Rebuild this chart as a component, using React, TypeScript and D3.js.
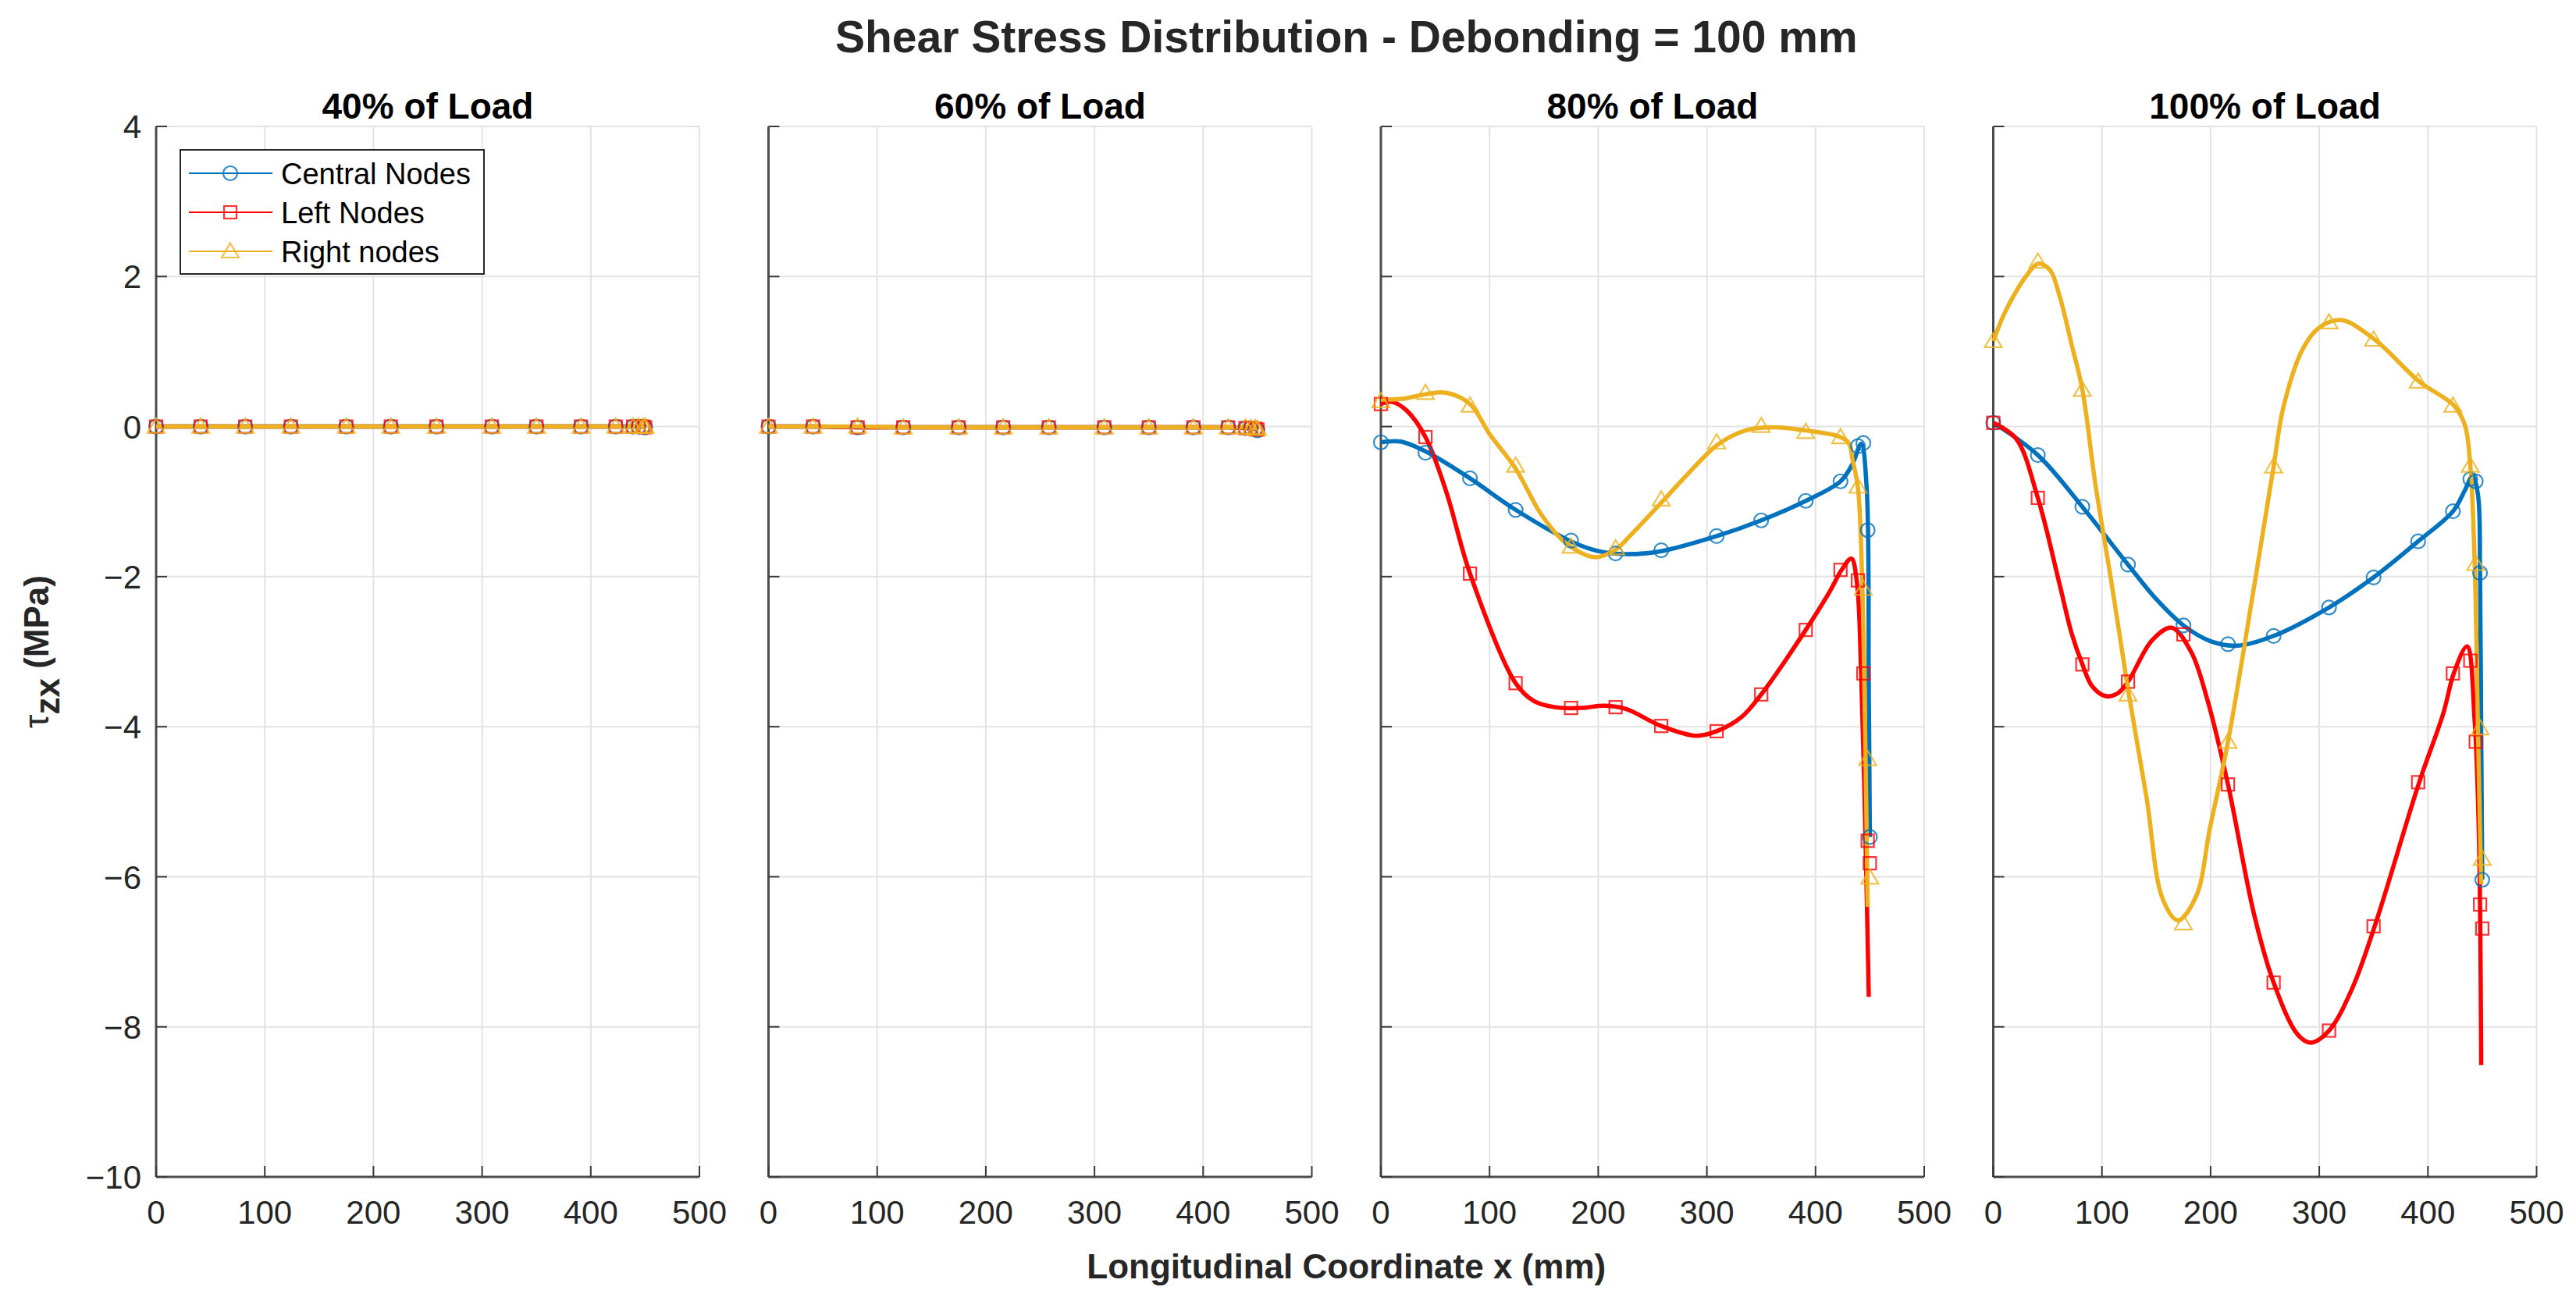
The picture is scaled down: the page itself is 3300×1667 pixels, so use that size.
import * as d3 from "d3";
import React, { useEffect, useRef } from "react";

type Pt = [number, number];

// node coordinates along the bond (mm), shared by all series
const NODE_X = [0, 41, 82, 124, 175, 216, 258, 309, 350, 391, 423, 439, 444, 448, 450];

const X_TICKS = [0, 100, 200, 300, 400, 500];
const Y_TICKS = [4, 2, 0, -2, -4, -6, -8, -10];
const PANEL_TITLES = ["40% of Load", "60% of Load", "80% of Load", "100% of Load"];
const SERIES_NAMES = ["Central Nodes", "Left Nodes", "Right nodes"];

// marker values (MPa) at NODE_X
const central40 = [0, 0, 0, 0, 0, 0, 0, 0, 0, 0, 0, 0, 0, 0, -0.01];
const left40 = [0, 0, 0, 0, 0, 0, 0, 0, 0, 0, 0, 0, 0, 0, -0.01];
const right40 = [0, 0, 0, 0, 0, 0, 0, 0, 0, 0, 0, 0, 0, 0, 0];

const central60 = [0, 0, -0.01, -0.01, -0.01, -0.01, -0.01, -0.01, -0.01, -0.01, -0.01, -0.02, -0.02, -0.03, -0.05];
const left60 = [0, 0, -0.01, -0.01, -0.01, -0.01, -0.01, -0.01, -0.01, -0.01, -0.01, -0.02, -0.02, -0.03, -0.04];
const right60 = [0, 0, 0, -0.01, -0.01, -0.01, -0.01, -0.01, -0.01, -0.01, -0.01, -0.01, -0.02, -0.02, -0.03];

const central80 = [-0.21, -0.35, -0.69, -1.11, -1.52, -1.69, -1.65, -1.46, -1.25, -0.99, -0.73, -0.26, -0.22, -1.38, -5.47];
const left80 = [0.3, -0.14, -1.96, -3.42, -3.75, -3.74, -3.99, -4.06, -3.57, -2.71, -1.91, -2.05, -3.29, -5.52, -5.82];
const right80 = [0.34, 0.45, 0.28, -0.52, -1.6, -1.62, -0.97, -0.21, 0.01, -0.07, -0.14, -0.8, -2.16, -4.43, -6.01];

const central100 = [0.05, -0.38, -1.07, -1.84, -2.65, -2.9, -2.79, -2.41, -2.01, -1.53, -1.13, -0.7, -0.73, -1.95, -6.04];
const left100 = [0.05, -0.95, -3.17, -3.4, -2.77, -4.77, -7.41, -8.05, -6.66, -4.74, -3.29, -3.12, -4.2, -6.37, -6.69];
const right100 = [1.14, 2.2, 0.49, -3.57, -6.62, -4.2, -0.53, 1.39, 1.16, 0.6, 0.28, -0.52, -1.83, -4.02, -5.76];

// smoothed curves as drawn (x mm, MPa)
const central80Curve: Pt[] = [
  [0, -0.21], [18, -0.2], [41, -0.33], [82, -0.69], [124, -1.11], [175, -1.53], [200, -1.66],
  [225, -1.7], [258, -1.66], [309, -1.46], [350, -1.25], [391, -0.99], [423, -0.73], [434, -0.5],
  [442, -0.23], [447, -0.8], [449, -3.5], [450, -5.47],
];
const left80Curve: Pt[] = [
  [0, 0.3], [10, 0.33], [24, 0.21], [41, -0.14], [60, -0.86], [82, -1.96], [124, -3.42],
  [141, -3.66], [160, -3.74], [185, -3.75], [205, -3.72], [225, -3.76], [258, -3.99], [290, -4.12],
  [309, -4.06], [332, -3.87], [350, -3.57], [391, -2.71], [413, -2.2], [424, -1.91], [433, -1.76],
  [438, -2.07], [442, -3.3], [446, -5.5], [449, -7.6],
];
const right80Curve: Pt[] = [
  [0, 0.36], [20, 0.37], [41, 0.43], [60, 0.45], [82, 0.3], [100, -0.1], [124, -0.56], [148, -1.18],
  [170, -1.55], [197, -1.74], [216, -1.64], [229, -1.46], [259, -1.0], [280, -0.67], [310, -0.24],
  [336, -0.05], [362, -0.01], [390, -0.05], [423, -0.14], [431, -0.23], [434, -0.44], [439, -0.81],
  [443, -2.1], [446, -4.4], [448, -6.4],
];
const central100Curve: Pt[] = [
  [0, 0.05], [41, -0.38], [82, -1.07], [124, -1.84], [150, -2.3], [175, -2.65], [200, -2.86],
  [225, -2.92], [258, -2.79], [309, -2.41], [350, -2.01], [391, -1.53], [423, -1.13], [434, -0.85],
  [441, -0.66], [446, -0.9], [448, -2.0], [449, -4.0], [450, -6.04],
];
const left100Curve: Pt[] = [
  [0, 0.05], [21, -0.16], [41, -0.95], [61, -2.1], [72, -2.75], [82, -3.17], [91, -3.46], [103, -3.59],
  [114, -3.56], [124, -3.4], [146, -2.85], [164, -2.68], [182, -3.0], [197, -3.64], [216, -4.77],
  [240, -6.5], [258, -7.41], [280, -8.1], [292, -8.21], [309, -8.05], [330, -7.5], [351, -6.66],
  [392, -4.74], [414, -3.83], [424, -3.28], [436, -2.93], [443, -3.92], [447, -5.5], [449, -8.51],
];
const right100Curve: Pt[] = [
  [0, 1.14], [10, 1.5], [21, 1.8], [30, 2.0], [41, 2.17], [52, 2.09], [61, 1.74], [72, 1.1], [82, 0.49],
  [94, -0.77], [109, -2.1], [124, -3.5], [141, -4.94], [156, -6.3], [170, -6.58], [187, -6.25],
  [199, -5.38], [216, -4.2], [237, -2.4], [258, -0.53], [267, 0.26], [285, 1.04], [300, 1.32],
  [320, 1.42], [351, 1.16], [392, 0.6], [424, 0.28], [434, 0.02], [439, -0.52], [443, -1.8],
  [446, -4.0], [449, -6.1],
];

const panels = [
  { title: PANEL_TITLES[0], markers: [central40, left40, right40], curves: [null, null, null] },
  { title: PANEL_TITLES[1], markers: [central60, left60, right60], curves: [null, null, null] },
  { title: PANEL_TITLES[2], markers: [central80, left80, right80], curves: [central80Curve, left80Curve, right80Curve] },
  { title: PANEL_TITLES[3], markers: [central100, left100, right100], curves: [central100Curve, left100Curve, right100Curve] },
];

const COLORS = ["#0072BD", "#FF0000", "#EDB120"];
const SHAPES = ["circle", "square", "triangle"];

const W = 3300;
const H = 1667;
const margin = { top: 162, bottom: 1508, left: 200 };
const PANEL_W = 696;
const PANEL_GAP = 88.5;
const FONT = "'Liberation Sans', Arial, Helvetica, sans-serif";

const drawMarker = (g: any, shape: string, cx: number, cy: number, color: string) => {
  let m;
  if (shape === "circle") {
    m = g.append("circle").attr("cx", cx).attr("cy", cy).attr("r", 9);
  } else if (shape === "square") {
    m = g.append("rect").attr("x", cx - 8).attr("y", cy - 8).attr("width", 16).attr("height", 16);
  } else {
    m = g.append("path").attr("d", `M${cx},${cy - 10.5}L${cx + 11},${cy + 8}L${cx - 11},${cy + 8}Z`);
  }
  m.attr("fill", "none")
    .attr("stroke", color)
    .attr("stroke-width", 2.2)
    .attr("stroke-opacity", 0.8);
};

export default function App() {
  const ref = useRef<SVGSVGElement | null>(null);

  useEffect(() => {
    const svg = d3.select(ref.current);
    svg.selectAll("*").remove();
    svg.attr("width", W).attr("height", H).attr("viewBox", `0 0 ${W} ${H}`);
    svg.append("rect").attr("width", W).attr("height", H).attr("fill", "#fff");

    const plotsLeft = margin.left;
    const plotsRight = margin.left + 3 * (PANEL_W + PANEL_GAP) + PANEL_W;
    const midX = (plotsLeft + plotsRight) / 2;

    svg.append("text")
      .attr("x", midX).attr("y", 67)
      .attr("text-anchor", "middle")
      .attr("font-family", FONT).attr("font-weight", "bold").attr("font-size", 57)
      .attr("fill", "#262626")
      .text("Shear Stress Distribution - Debonding = 100 mm");

    svg.append("text")
      .attr("x", midX).attr("y", 1638)
      .attr("text-anchor", "middle")
      .attr("font-family", FONT).attr("font-weight", "bold").attr("font-size", 44)
      .attr("fill", "#262626")
      .text("Longitudinal Coordinate x (mm)");

    const yl = svg.append("text")
      .attr("transform", `translate(62,${(margin.top + margin.bottom) / 2}) rotate(-90)`)
      .attr("text-anchor", "middle")
      .attr("font-family", FONT).attr("font-size", 44)
      .attr("fill", "#262626");
    yl.append("tspan").attr("font-weight", "normal").text("τ");
    yl.append("tspan").attr("font-weight", "bold").attr("dy", 14).text("zx");
    yl.append("tspan").attr("font-weight", "bold").attr("dy", -14).text(" (MPa)");

    panels.forEach((p, i) => {
      const left = margin.left + i * (PANEL_W + PANEL_GAP);
      const x = d3.scaleLinear().domain([0, 500]).range([left, left + PANEL_W]);
      const y = d3.scaleLinear().domain([-10, 4]).range([margin.bottom, margin.top]);
      const g = svg.append("g");

      // grid
      g.append("g").selectAll("line").data(X_TICKS.slice(1)).join("line")
        .attr("x1", (d) => x(d)).attr("x2", (d) => x(d))
        .attr("y1", margin.top).attr("y2", margin.bottom)
        .attr("stroke", "#e3e3e3").attr("stroke-width", 2);
      g.append("g").selectAll("line").data(Y_TICKS.slice(0, -1)).join("line")
        .attr("x1", x(0)).attr("x2", x(500))
        .attr("y1", (d) => y(d)).attr("y2", (d) => y(d))
        .attr("stroke", "#e3e3e3").attr("stroke-width", 2);

      // axes (no box)
      g.append("line").attr("x1", x(0)).attr("x2", x(0)).attr("y1", margin.top).attr("y2", margin.bottom)
        .attr("stroke", "#4d4d4d").attr("stroke-width", 3);
      g.append("line").attr("x1", x(0)).attr("x2", x(500)).attr("y1", margin.bottom).attr("y2", margin.bottom)
        .attr("stroke", "#4d4d4d").attr("stroke-width", 3);

      // inward ticks
      g.append("g").selectAll("line").data(X_TICKS).join("line")
        .attr("x1", (d) => x(d)).attr("x2", (d) => x(d))
        .attr("y1", margin.bottom).attr("y2", margin.bottom - 14)
        .attr("stroke", "#3a3a3a").attr("stroke-width", 2);
      g.append("g").selectAll("line").data(Y_TICKS).join("line")
        .attr("x1", x(0)).attr("x2", x(0) + 14)
        .attr("y1", (d) => y(d)).attr("y2", (d) => y(d))
        .attr("stroke", "#3a3a3a").attr("stroke-width", 2);

      g.append("g").selectAll("text").data(X_TICKS).join("text")
        .attr("x", (d) => x(d)).attr("y", 1568)
        .attr("text-anchor", "middle")
        .attr("font-family", FONT).attr("font-size", 42).attr("fill", "#262626")
        .text((d) => String(d));

      if (i === 0) {
        g.append("g").selectAll("text").data(Y_TICKS).join("text")
          .attr("x", x(0) - 19).attr("y", (d) => y(d))
          .attr("dy", "0.36em")
          .attr("text-anchor", "end")
          .attr("font-family", FONT).attr("font-size", 42).attr("fill", "#262626")
          .text((d) => (d < 0 ? "\u2212" + Math.abs(d) : String(d)));
      }

      g.append("text")
        .attr("x", (x(0) + x(500)) / 2).attr("y", 152)
        .attr("text-anchor", "middle")
        .attr("font-family", FONT).attr("font-weight", "bold").attr("font-size", 46)
        .attr("fill", "#000")
        .text(p.title);

      const line = d3.line<Pt>()
        .x((d) => x(d[0]))
        .y((d) => y(d[1]))
        .curve(d3.curveCatmullRom.alpha(0.5));

      p.markers.forEach((vals, s) => {
        const pts: Pt[] = p.curves[s] ?? NODE_X.map((nx, k) => [nx, vals[k]] as Pt);
        g.append("path")
          .attr("d", line(pts))
          .attr("fill", "none")
          .attr("stroke", COLORS[s])
          .attr("stroke-width", 5.5)
          .attr("stroke-linejoin", "round");
      });

      p.markers.forEach((vals, s) => {
        const mg = g.append("g");
        vals.forEach((v, k) => drawMarker(mg, SHAPES[s], x(NODE_X[k]), y(v), COLORS[s]));
      });
    });

    // legend in first panel
    const lg = svg.append("g");
    lg.append("rect")
      .attr("x", 231).attr("y", 192).attr("width", 389).attr("height", 159)
      .attr("fill", "#fff").attr("stroke", "#262626").attr("stroke-width", 2);
    SERIES_NAMES.forEach((name, s) => {
      const cy = 222 + s * 50;
      lg.append("line").attr("x1", 242).attr("x2", 349).attr("y1", cy).attr("y2", cy)
        .attr("stroke", COLORS[s]).attr("stroke-width", 2);
      drawMarker(lg, SHAPES[s], 295, cy, COLORS[s]);
      lg.append("text")
        .attr("x", 360).attr("y", cy).attr("dy", "0.36em")
        .attr("font-family", FONT).attr("font-size", 38).attr("fill", "#000")
        .text(name);
    });
  }, []);

  return (
    <>
      <style>{`body{margin:0}`}</style>
      <svg ref={ref} style={{ display: "block" }} />
    </>
  );
}
